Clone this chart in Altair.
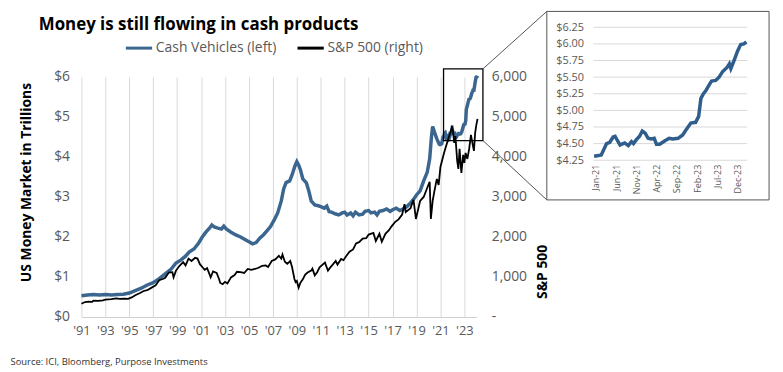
import altair as alt
import pandas as pd

# ---------------- data ----------------
cash_years = [1991.0, 1991.5, 1992.0, 1992.5, 1993.0, 1993.5, 1994.0, 1994.5, 1995.0, 1995.5,
              1996.0, 1996.5, 1997.0, 1997.5, 1998.0, 1998.5, 1998.9, 1999.3, 1999.7, 2000.0,
              2000.4, 2000.8, 2001.1, 2001.4, 2001.7, 2001.9, 2002.1, 2002.4, 2002.7, 2002.9,
              2003.1, 2003.5, 2003.9, 2004.3, 2004.7, 2005.0, 2005.3, 2005.6, 2005.9, 2006.2,
              2006.5, 2006.8, 2007.1, 2007.4, 2007.7, 2007.9, 2008.1, 2008.4, 2008.6, 2008.85,
              2009.0, 2009.15, 2009.3, 2009.5, 2009.8, 2010.0, 2010.2, 2010.5, 2010.8, 2011.0,
              2011.3, 2011.5, 2011.7, 2011.9, 2012.2, 2012.5, 2012.8, 2013.0, 2013.2, 2013.5,
              2013.7, 2013.9, 2014.2, 2014.5, 2014.7, 2015.0, 2015.2, 2015.5, 2015.7, 2015.9,
              2016.2, 2016.5, 2016.8, 2017.0, 2017.3, 2017.6, 2017.9, 2018.2, 2018.5, 2018.8,
              2019.0, 2019.3, 2019.6, 2019.9, 2020.1, 2020.25, 2020.35, 2020.5, 2020.7, 2020.9]
cash_values = [0.53, 0.55, 0.56, 0.55, 0.56, 0.55, 0.56, 0.57, 0.60, 0.66,
               0.72, 0.80, 0.86, 0.96, 1.08, 1.20, 1.35, 1.42, 1.52, 1.62,
               1.70, 1.85, 2.00, 2.12, 2.22, 2.30, 2.25, 2.22, 2.20, 2.27,
               2.20, 2.12, 2.05, 2.00, 1.93, 1.88, 1.83, 1.86, 1.97, 2.05,
               2.15, 2.26, 2.42, 2.60, 2.90, 3.20, 3.36, 3.40, 3.55, 3.78,
               3.88, 3.80, 3.68, 3.45, 3.35, 3.15, 2.90, 2.80, 2.78, 2.76,
               2.72, 2.77, 2.63, 2.62, 2.58, 2.55, 2.60, 2.62, 2.55, 2.60,
               2.53, 2.62, 2.55, 2.57, 2.64, 2.66, 2.60, 2.62, 2.55, 2.64,
               2.66, 2.70, 2.64, 2.68, 2.72, 2.66, 2.70, 2.76, 2.85, 2.96,
               3.05, 3.15, 3.40, 3.62, 3.95, 4.50, 4.76, 4.62, 4.45, 4.32]

# recent cash vehicles (also shown in the inset)
recent_dates = ["2020-12-18", "2021-01-20", "2021-02-10", "2021-03-01", "2021-03-22", "2021-04-15",
                "2021-05-10", "2021-05-25", "2021-06-05", "2021-07-01", "2021-08-05", "2021-09-01",
                "2021-09-25", "2021-10-10", "2021-11-01", "2021-11-25", "2021-12-15", "2022-01-05",
                "2022-01-28", "2022-02-20", "2022-03-15", "2022-04-01", "2022-04-25", "2022-06-01",
                "2022-07-05", "2022-08-01", "2022-09-10", "2022-10-15", "2022-11-10", "2022-12-15",
                "2023-01-20", "2023-02-12", "2023-03-01", "2023-03-20", "2023-04-05", "2023-05-01",
                "2023-05-20", "2023-06-20", "2023-07-15", "2023-08-10", "2023-09-15", "2023-10-01",
                "2023-10-12", "2023-11-05", "2023-12-01", "2023-12-25", "2024-01-18", "2024-02-06"]
recent_values = [4.31, 4.32, 4.33, 4.41, 4.50, 4.52,
                 4.60, 4.61, 4.57, 4.48, 4.51, 4.47,
                 4.53, 4.50, 4.56, 4.61, 4.69, 4.66,
                 4.58, 4.57, 4.58, 4.49, 4.49, 4.54,
                 4.58, 4.57, 4.58, 4.63, 4.71, 4.81,
                 4.82, 4.91, 5.18, 5.25, 5.29, 5.38,
                 5.44, 5.45, 5.50, 5.58, 5.65, 5.70,
                 5.63, 5.75, 5.89, 5.99, 6.00, 6.03]

spx_years = [1991.0, 1991.3, 1991.6, 1991.9, 1992.0, 1992.4, 1992.8, 1993.0, 1993.5, 1993.9,
             1994.2, 1994.6, 1994.9, 1995.2, 1995.5, 1995.9, 1996.2, 1996.5, 1996.9, 1997.2,
             1997.5, 1997.8, 1998.0, 1998.3, 1998.6, 1998.7, 1998.9, 1999.2, 1999.5, 1999.7,
             1999.95, 2000.2, 2000.5, 2000.7, 2000.9, 2001.1, 2001.3, 2001.5, 2001.7, 2001.8,
             2002.0, 2002.3, 2002.5, 2002.6, 2002.8, 2003.0, 2003.2, 2003.5, 2003.8, 2004.0,
             2004.3, 2004.6, 2004.9, 2005.2, 2005.5, 2005.8, 2006.1, 2006.4, 2006.6, 2006.9,
             2007.2, 2007.5, 2007.7, 2007.8, 2008.0, 2008.2, 2008.45, 2008.6, 2008.8, 2008.9,
             2009.0, 2009.15, 2009.3, 2009.5, 2009.7, 2009.9, 2010.2, 2010.3, 2010.5, 2010.7,
             2010.9, 2011.2, 2011.35, 2011.6, 2011.8, 2012.0, 2012.25, 2012.4, 2012.7, 2012.9,
             2013.1, 2013.4, 2013.7, 2013.95, 2014.2, 2014.5, 2014.8, 2015.0, 2015.4, 2015.6,
             2015.9, 2016.1, 2016.4, 2016.7, 2016.9, 2017.2, 2017.5, 2017.8, 2018.0, 2018.1,
             2018.5, 2018.75, 2018.95, 2019.3, 2019.6, 2019.9, 2020.1, 2020.2, 2020.35, 2020.5,
             2020.7, 2020.85, 2021.0, 2021.3, 2021.5, 2021.7, 2021.85, 2022.0, 2022.15, 2022.25,
             2022.4, 2022.5, 2022.6, 2022.75, 2022.9, 2023.0, 2023.1, 2023.25, 2023.4, 2023.55,
             2023.7, 2023.8, 2023.9, 2024.0, 2024.1]
spx_values = [330, 375, 385, 380, 410, 405, 415, 435, 445, 465,
              455, 460, 455, 490, 545, 600, 650, 670, 740, 790,
              920, 950, 980, 1110, 1120, 990, 1160, 1280, 1370, 1290,
              1460, 1400, 1480, 1460, 1320, 1250, 1180, 1220, 1070, 990,
              1140, 1100, 950, 850, 820, 880, 840, 990, 1050, 1130,
              1120, 1100, 1200, 1180, 1200, 1230, 1280, 1290, 1250, 1400,
              1440, 1530, 1460, 1560, 1380, 1330, 1400, 1250, 950, 870,
              900, 730, 860, 940, 1060, 1110, 1160, 1210, 1040, 1120,
              1240, 1320, 1360, 1160, 1240, 1310, 1400, 1310, 1450, 1420,
              1510, 1630, 1690, 1840, 1870, 1960, 1970, 2060, 2100, 1900,
              2080, 1880, 2080, 2170, 2260, 2370, 2440, 2560, 2820, 2620,
              2720, 2930, 2450, 2900, 3000, 3230, 3380, 2450, 2900, 3150,
              3450, 3300, 3750, 4100, 4300, 4500, 4620, 4780, 4350, 4520,
              3900, 3700, 4200, 3600, 4050, 3850, 4100, 3950, 4200, 4550,
              4300, 4150, 4600, 4800, 4950]

x_tick_years = list(range(1991, 2024, 2))
left_ticks = [0, 1, 2, 3, 4, 5, 6]
right_ticks = [0, 1000, 2000, 3000, 4000, 5000, 6000]
inset_ticks = [4.25, 4.50, 4.75, 5.00, 5.25, 5.50, 5.75, 6.00, 6.25]
inset_label_dates = ["2021-01-01", "2021-06-01", "2021-11-01", "2022-04-01", "2022-09-01",
                     "2023-02-01", "2023-07-01", "2023-12-01"]
inset_start, inset_end = "2020-12-13", "2024-02-12"

# zoom box (main-chart coordinates), inset frame position and connectors
zoom_box = {"year": [2021.26], "year2": [2024.55], "value": [4.41], "value2": [6.20]}
frame_box = {"year": [2029.89], "year2": [2048.46], "value": [2.926], "value2": [7.636]}
connectors = {"year": [2024.55, 2024.55], "year2": [2029.89, 2029.89],
              "value": [6.20, 4.41], "value2": [7.636, 2.926]}

BLUE = "#3B6690"
FONT = "Open Sans"
LABEL = "#595959"

# ---------------- tables ----------------
rd = pd.to_datetime(pd.Series(recent_dates))
recent_years = (rd.dt.year + (rd.dt.dayofyear - 1) / 365.25).tolist()

cash_df = pd.DataFrame({"year": cash_years + recent_years,
                        "value": cash_values + recent_values,
                        "series": "Cash Vehicles (left)"})
spx_df = pd.DataFrame({"year": spx_years, "value": spx_values, "series": "S&P 500 (right)"})
inset_df = pd.DataFrame({"date": recent_dates, "value": recent_values})
grid_df = pd.DataFrame({"date": [inset_start] * len(inset_ticks),
                        "date2": [inset_end] * len(inset_ticks), "value": inset_ticks})

color_scale = alt.Scale(domain=["Cash Vehicles (left)", "S&P 500 (right)"], range=[BLUE, "black"])
xs = alt.Scale(domain=[1991, 2024], nice=False, zero=False)
ys = alt.Scale(domain=[0, 6], nice=False)

x_axis = alt.Axis(
    values=x_tick_years, labelExpr="\"'\" + substring(toString(datum.value), 2, 4)",
    grid=True, gridColor="#d9d9d9", gridWidth=1, ticks=False, domainColor="#d0d0d0",
    labelFont=FONT, labelFontSize=13, labelColor=LABEL, labelPadding=8,
    labelOverlap=False, labelFlush=False,
    title="Source: ICI, Bloomberg, Purpose Investments", titleFont=FONT, titleFontSize=9.5,
    titleFontWeight="normal", titleColor="#333333", titleX=-72, titleY=45,
    titleAlign="left", titleBaseline="middle")
y_axis = alt.Axis(
    values=left_ticks, labelExpr="'$' + datum.value", grid=False, ticks=False, domain=False,
    labelFont=FONT, labelFontSize=14, labelColor=LABEL, labelPadding=12, labelFlush=False,
    title="US Money Market in Trillions", titleFont=FONT, titleFontSize=14,
    titleFontWeight="bold", titleColor="black", titleAngle=270, titleX=-55, titleY=106,
    titleAlign="center", titleBaseline="middle")

cash_line = alt.Chart(cash_df).mark_line(strokeWidth=3.5, clip=False).encode(
    x=alt.X("year:Q", scale=xs, axis=x_axis),
    y=alt.Y("value:Q", scale=ys, axis=y_axis),
    color=alt.Color("series:N", scale=color_scale, legend=alt.Legend(
        title=None, orient="none", legendX=43, legendY=-44, direction="horizontal",
        symbolType="stroke", symbolSize=700, symbolStrokeWidth=3, labelFont=FONT,
        labelFontSize=14, labelColor=LABEL, columnPadding=14, labelOffset=2)),
)

box = alt.Chart(pd.DataFrame(zoom_box)).mark_rect(
    fill=None, stroke="black", strokeWidth=1.3, clip=False).encode(
    x=alt.X("year:Q", scale=xs, axis=x_axis), x2="year2:Q",
    y=alt.Y("value:Q", scale=ys, axis=y_axis), y2="value2:Q")
frame = alt.Chart(pd.DataFrame(frame_box)).mark_rect(
    fill=None, stroke="#555555", strokeWidth=1, clip=False).encode(
    x=alt.X("year:Q", scale=xs, axis=x_axis), x2="year2:Q",
    y=alt.Y("value:Q", scale=ys, axis=y_axis), y2="value2:Q")
links = alt.Chart(pd.DataFrame(connectors)).mark_rule(
    color="#555555", strokeWidth=1, clip=False).encode(
    x=alt.X("year:Q", scale=xs, axis=x_axis), x2="year2:Q",
    y=alt.Y("value:Q", scale=ys, axis=y_axis), y2="value2:Q")

layer_a = alt.layer(cash_line, box, links, frame)

layer_b = alt.Chart(spx_df).mark_line(strokeWidth=1.8, clip=False).encode(
    x=alt.X("year:Q", scale=xs, axis=None),
    y=alt.Y("value:Q", scale=alt.Scale(domain=[0, 6000], nice=False), axis=alt.Axis(
        orient="right", values=right_ticks,
        labelExpr="datum.value == 0 ? '-' : format(datum.value, ',')",
        grid=False, ticks=False, domain=False, labelFont=FONT, labelFontSize=14,
        labelColor=LABEL, labelPadding=15, labelFlush=False, title="S&P 500", titleFont=FONT,
        titleFontSize=14, titleFontWeight="bold", titleColor="black", titleAngle=270,
        titleX=67, titleY=196, titleAlign="center", titleBaseline="middle")),
    color=alt.Color("series:N", scale=color_scale),
)

ixs = alt.Scale(type="time", domain=[alt.DateTime(year=2020, month=12, date=13),
                                     alt.DateTime(year=2024, month=2, date=12)],
                range=[516, 671], nice=False)
iys = alt.Scale(domain=[4.25, 6.25], range=[84, -50], nice=False, zero=False)

ix_axis = alt.Axis(
    orient="bottom", offset=-158, values=inset_label_dates, format="%b-%y",
    labelAngle=270, labelAlign="right", labelBaseline="middle", labelFont=FONT,
    labelFontSize=9, labelColor=LABEL, labelPadding=4, labelOverlap=False, labelFlush=False,
    grid=False, ticks=False, domain=False, title=None)
iy_axis = alt.Axis(
    orient="left", offset=-516, values=inset_ticks, format="$.2f", grid=False,
    ticks=False, domain=False, labelFont=FONT, labelFontSize=11, labelColor=LABEL,
    labelPadding=10, labelFlush=False, labelOverlap=False, title=None)

inset_grid = alt.Chart(grid_df).mark_rule(color="#d9d9d9", strokeWidth=1, clip=False).encode(
    x=alt.X("date:T", scale=ixs, axis=ix_axis), x2="date2:T",
    y=alt.Y("value:Q", scale=iys, axis=iy_axis),
)
inset_line = alt.Chart(inset_df).mark_line(color="#2F5D8C", strokeWidth=3.5, clip=False).encode(
    x=alt.X("date:T", scale=ixs, axis=ix_axis),
    y=alt.Y("value:Q", scale=iys, axis=iy_axis),
)
layer_c = alt.layer(inset_grid, inset_line)

chart = alt.layer(layer_a, layer_b, layer_c).resolve_scale(
    x="independent", y="independent"
).resolve_axis(x="independent", y="independent").properties(
    width=398, height=242,
    padding={"left": 2, "top": 1, "right": 5, "bottom": 5},
    title=alt.TitleParams("Money is still flowing in cash products", anchor="start", frame="group",
                          dx=-43, dy=27, font=FONT, fontSize=17, fontWeight="bold",
                          color="black"),
).configure_view(stroke=None)

chart.save("out.html", embed_options={"renderer": "svg", "actions": False})
